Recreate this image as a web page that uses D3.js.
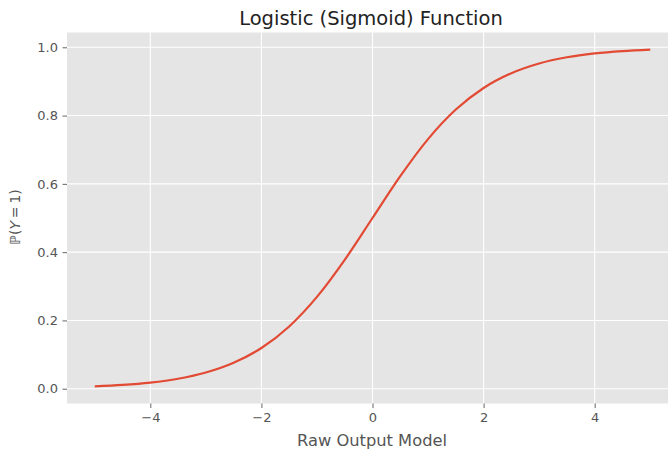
<!DOCTYPE html>
<html><head><meta charset="utf-8">
<script src="https://cdn.jsdelivr.net/npm/d3@7"></script>
<style>
body{margin:0;background:#fff;}
text{font-family:"DejaVu Sans",sans-serif;}
</style></head>
<body><svg id="c" width="668" height="452"></svg>
<script>
const xValues = [-5,-4.5,-4,-3.5,-3,-2.5,-2,-1.5,-1,-0.5,0,0.5,1,1.5,2,2.5,3,3.5,4,4.5,5];
const yValues = [0.0067,0.0110,0.0180,0.0293,0.0474,0.0759,0.1192,0.1824,0.2689,0.3775,0.5,0.6225,0.7311,0.8176,0.8808,0.9241,0.9526,0.9707,0.9820,0.9890,0.9933];
const xTicks = [-4,-2,0,2,4];
const yTicks = [0.0,0.2,0.4,0.6,0.8,1.0];
const title = "Logistic (Sigmoid) Function";
const xLabel = "Raw Output Model";

const svg = d3.select("#c");
const L = 67, R = 678, T = 32.5, B = 403.5;
const x = d3.scaleLinear().domain([-5.5,5.5]).range([L,R]);
const y = d3.scaleLinear().domain([-0.0433,1.0433]).range([B,T]);

svg.append("rect").attr("x",L).attr("y",T).attr("width",R-L).attr("height",B-T).attr("fill","#E5E5E5");

// grid
svg.append("g").selectAll("line").data(xTicks).join("line")
  .attr("x1",d=>x(d)).attr("x2",d=>x(d)).attr("y1",T).attr("y2",B)
  .attr("stroke","#fff").attr("stroke-width",1.1);
svg.append("g").selectAll("line").data(yTicks).join("line")
  .attr("x1",L).attr("x2",R).attr("y1",d=>y(d)).attr("y2",d=>y(d))
  .attr("stroke","#fff").attr("stroke-width",1.1);

const fmtX = d => d3.format("")(d).replace("-","\u2212");
const xAxis = svg.append("g").attr("transform",`translate(0,${B})`)
  .call(d3.axisBottom(x).tickValues(xTicks).tickFormat(fmtX).tickSize(4.5).tickPadding(5));
const yAxis = svg.append("g").attr("transform",`translate(${L},0)`)
  .call(d3.axisLeft(y).tickValues(yTicks).tickFormat(d3.format(".1f")).tickSize(4.5).tickPadding(4.5));
[xAxis,yAxis].forEach(a=>{
  a.select(".domain").remove();
  a.selectAll(".tick line").attr("stroke","#555").attr("stroke-width",0.9);
  a.selectAll(".tick text").attr("fill","#555").style("font-size","13px").style("font-family","DejaVu Sans");
});

// line
const line = d3.line().x((d,i)=>x(xValues[i])).y(d=>y(d)).curve(d3.curveMonotoneX);
svg.append("path").datum(yValues).attr("d",line).attr("fill","none")
  .attr("stroke","#E24A33").attr("stroke-width",2.2);

// title
svg.append("text").attr("x",371).attr("y",24.5).attr("text-anchor","middle")
  .attr("fill","#222").style("font-size","19.5px").text(title);
// x label
svg.append("text").attr("x",372).attr("y",446).attr("text-anchor","middle")
  .attr("fill","#555").style("font-size","16.3px").text(xLabel);
// y label
const yl = svg.append("text").attr("transform","translate(20,217) rotate(-90)")
  .attr("text-anchor","middle").attr("fill","#555").style("font-size","14px");
yl.append("tspan").text("\u2119(");
yl.append("tspan").style("font-style","italic").text("Y");
yl.append("tspan").text("\u2009=\u20091)");
</script></body></html>
